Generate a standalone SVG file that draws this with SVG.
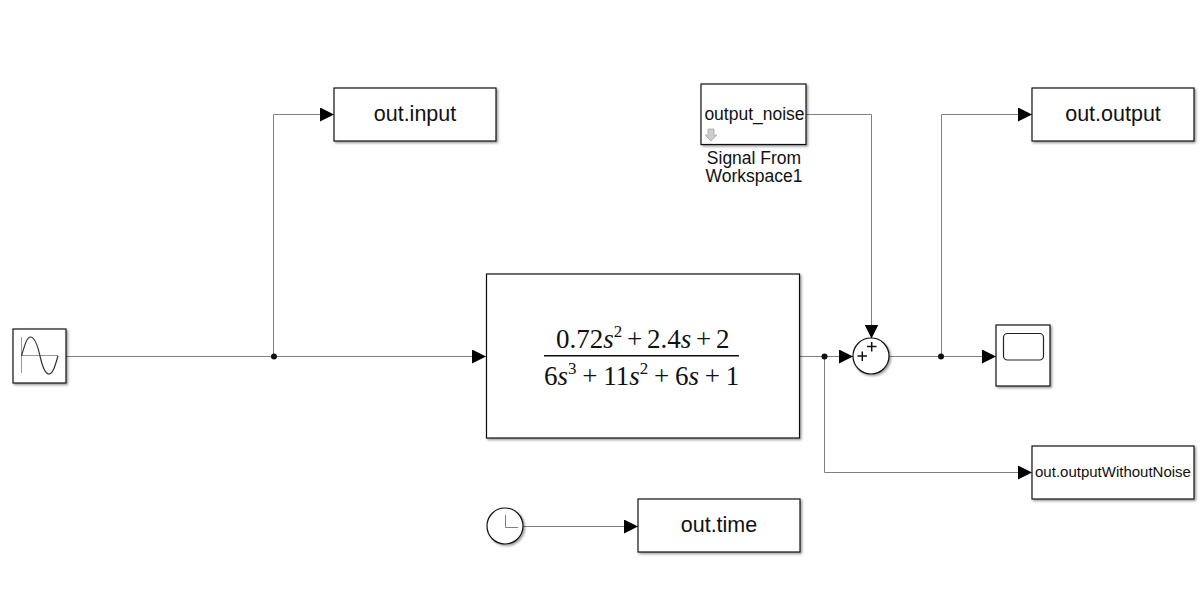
<svg xmlns="http://www.w3.org/2000/svg" width="1200" height="600" viewBox="0 0 1200 600">
<style>
.blk{fill:#fff;stroke:#111;stroke-width:1.2;filter:url(#sh)}
.t{font-family:"Liberation Sans",Arial,sans-serif;fill:#111;text-anchor:middle}
.m{font-family:"Liberation Serif","Times New Roman",serif;fill:#111;font-size:27px}
.w{fill:none;stroke:#808080;stroke-width:1}
.g{fill:none;stroke:#999;stroke-width:1}
.k{fill:none;stroke:#333;stroke-width:1.2}
.d{fill:#111}
</style>
<defs>
<filter id="sh" x="-10%" y="-10%" width="125%" height="125%"><feDropShadow dx="1.5" dy="1.5" stdDeviation="1" flood-color="#000" flood-opacity="0.4"/></filter>
<marker id="a" markerUnits="userSpaceOnUse" markerWidth="14" markerHeight="14" refX="14" refY="7" orient="auto"><path d="M0 0L14 7L0 14Z" fill="#000"/></marker>
</defs>
<g id="connectors">
<path class="w" d="M66 356.500H486" marker-end="url(#a)"/>
<path class="w" d="M273.500 356.500V114.500H334" marker-end="url(#a)"/>
<path class="w" d="M800 356.500H853" marker-end="url(#a)"/>
<path class="w" d="M824.500 356.500V472.500H1032" marker-end="url(#a)"/>
<path class="w" d="M806 114.500H871.500V338.500" marker-end="url(#a)"/>
<path class="w" d="M889 356.500H996" marker-end="url(#a)"/>
<path class="w" d="M941.500 356.500V114.500H1032" marker-end="url(#a)"/>
<path class="w" d="M523 526.500H638" marker-end="url(#a)"/>
<circle class="d" cx="274" cy="356.500" r="3"/>
<circle class="d" cx="824.500" cy="356.500" r="3"/>
<circle class="d" cx="941" cy="356.500" r="3"/>
</g>
<g id="sine">
<rect class="blk" x="13" y="329" width="53" height="54"/>
<path class="g" d="M21.500 337V373M21.500 355.500H58"/>
<path class="k" d="M21.500 356C25 344 27 337 30.500 337C35 337 38 347 40 356C42 365 45 374 49 374C53 374 55 366 58 356"/>
</g>
<g id="out_input">
<rect class="blk" x="334" y="88" width="162" height="53"/>
<text class="t" x="415" y="120.500" font-size="21.500">out.input</text>
</g>
<g id="signal_from_workspace">
<rect class="blk" x="701" y="84" width="105" height="60.500"/>
<text class="t" x="754.500" y="120" font-size="17.500">output_noise</text>
<path d="M708 129H714V135H717L711 141L705 135H708Z" fill="#ccc" stroke="#aaa" stroke-width="0.800"/>
<text class="t" x="754" y="163.500" font-size="17.500">Signal From</text>
<text class="t" x="754" y="182" font-size="17.500">Workspace1</text>
</g>
<g id="out_output">
<rect class="blk" x="1032" y="88" width="162" height="53"/>
<text class="t" x="1113" y="120.500" font-size="21.500">out.output</text>
</g>
<g id="transfer_fcn">
<rect class="blk" x="486.500" y="274" width="313" height="164"/>
<text class="m" x="556" y="348" word-spacing="-2">0.72<tspan font-style="italic">s</tspan><tspan font-size="17" dy="-11">2</tspan><tspan dy="11"> + 2.4</tspan><tspan font-style="italic">s</tspan> + 2</text>
<rect x="544" y="355" width="195" height="1.500" fill="#111"/>
<text class="m" x="544" y="385" word-spacing="-1">6<tspan font-style="italic">s</tspan><tspan font-size="17" dy="-11">3</tspan><tspan dy="11"> + 11</tspan><tspan font-style="italic">s</tspan><tspan font-size="17" dy="-11">2</tspan><tspan dy="11"> + 6</tspan><tspan font-style="italic">s</tspan> + 1</text>
</g>
<g id="sum">
<circle class="blk" cx="871" cy="356" r="18"/>
<path d="M867 346.500H876.500M871.700 342V351.500M857.500 356H867M862.300 351.500V361" fill="none" stroke="#111" stroke-width="1.500"/>
</g>
<g id="scope">
<rect class="blk" x="996" y="325" width="54" height="61"/>
<rect x="1003.500" y="333.500" width="40" height="26.500" rx="4" fill="#fff" stroke="#222" stroke-width="1.200"/>
</g>
<g id="out_outputWithoutNoise">
<rect class="blk" x="1032" y="446" width="162" height="53"/>
<text class="t" x="1113" y="477" font-size="15">out.outputWithoutNoise</text>
</g>
<g id="clock">
<circle class="blk" cx="505" cy="526" r="18"/>
<path class="w" d="M505.500 515V527.500H518"/>
</g>
<g id="out_time">
<rect class="blk" x="638" y="499" width="162" height="53"/>
<text class="t" x="719" y="532" font-size="21.500">out.time</text>
</g>
</svg>
